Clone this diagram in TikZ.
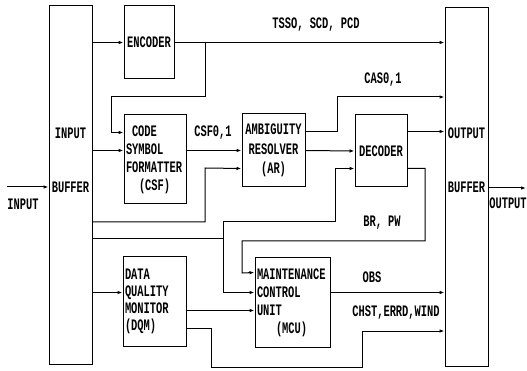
\documentclass[tikz,border=0pt]{standalone}
\usepackage{fontspec}
\setmonofont{Liberation Mono}[FakeStretch=0.65]
\usetikzlibrary{arrows.meta,calc}
\tikzset{
  every picture/.style={>={Latex[length=5pt,width=3.5pt]}, line width=1pt},
  lines/.style={font=\ttfamily\bfseries\fontsize{16}{#1}\selectfont},
  lbl/.style={lines=18, inner sep=1pt},
  blk/.style={draw, lines=18, inner sep=2pt},
  wire/.style={->},
}

\begin{document}
\begin{tikzpicture}[x=1pt,y=-1pt]
  \path[use as bounding box] (0,0) rectangle (527,371);
  \node[blk, minimum width=43pt, minimum height=358pt] (ib) at (70.5,185) {};
  \node[blk, minimum width=43pt, minimum height=358pt] (ob) at (466.5,187) {};
  \node[blk, minimum width=50pt, minimum height=73pt] (enc) at (149,42.5) {ENCODER};
  \node[blk, minimum width=62pt, minimum height=89pt, text width=58pt, align=left] (csf) at (155,159.5)
    {\hspace*{6pt}CODE\\SYMBOL\\FORMATTER\\\hspace*{13pt}(CSF)};
  \node[blk, lines=19.5, minimum width=63pt, minimum height=73pt, align=center] (ar) at (273.5,150.5)
    {AMBIGUITY\\RESOLVER\\(AR)};
  \node[blk, minimum width=52pt, minimum height=72pt] (dec) at (381,151) {DECODER};
  \node[blk, lines=17, minimum width=63pt, minimum height=89pt, text width=59pt, align=left] (dqm) at (154.5,301.5)
    {DATA\\QUALITY\\MONITOR\\(DQM)};
  \node[blk, minimum width=75pt, minimum height=89pt, text width=71pt, align=left] (mcu) at (292.5,302.5)
    {MAINTENANCE\\CONTROL\\UNIT\\\hspace*{19pt}(MCU)};

  \node[lbl] (ib-a) at (ib.center |- 0,133) {INPUT};
  \node[lbl] (ib-b) at (ib.center |- 0,187) {BUFFER};
  \node[lbl] (ob-a) at (ob.center |- 0,133) {OUTPUT};
  \node[lbl] (ob-b) at (ob.center |- 0,187) {BUFFER};

  \node[lbl] (l-tss) at (316,25) {TSSO, SCD, PCD};
  \node[lbl] (l-csf) at (213,133) {CSF0,1};
  \node[lbl] (l-cas) at (383,80) {CAS0,1};
  \node[lbl] (l-br) at (382,223) {BR, PW};
  \node[lbl] (l-obs) at (372,277) {OBS};
  \node[lbl] (l-chst) at (396,313) {CHST,ERRD,WIND};
  \node[lbl] (l-in) at (23,204) {INPUT};
  \node[lbl] (l-out) at (508,203) {OUTPUT};

  \coordinate (in) at (7,187);
  \coordinate (out) at (526,188);
  \coordinate (tap) at ($(enc.east)+(31,0)$);
  \coordinate (fork) at (223,239);
  \coordinate (csf-i1) at ($(csf.north west)+(0,18)$);
  \coordinate (csf-i2) at ($(csf.north west)+(0,36)$);
  \coordinate (csf-o) at ($(csf.north east)+(0,36)$);
  \coordinate (ar-i2) at ($(ar.south west)+(0,-19)$);
  \coordinate (ar-o1) at ($(ar.north east)+(0,18)$);
  \coordinate (dec-i2) at ($(dec.south west)+(0,-19)$);
  \coordinate (dec-o1) at ($(dec.north east)+(0,17)$);
  \coordinate (dec-o2) at ($(dec.south east)+(0,-19)$);
  \coordinate (dqm-i) at ($(dqm.north west)+(0,36)$);
  \coordinate (dqm-o1) at ($(dqm.north east)+(0,54)$);
  \coordinate (dqm-o2) at ($(dqm.north east)+(0,72)$);
  \coordinate (mcu-i1) at ($(mcu.north west)+(0,15)$);
  \coordinate (mcu-i2) at ($(mcu.north west)+(0,35)$);
  \coordinate (mcu-i3) at ($(mcu.north west)+(0,53)$);
  \coordinate (mcu-o) at ($(mcu.north east)+(0,35)$);

  \draw[wire] (in) -- (ib.west |- in);
  \draw[wire] (ib.east |- enc.west) -- (enc.west);
  \draw[wire] (enc.east) -- (ob.west |- enc.east);
  \draw[wire] (tap) |- (111,97) |- (csf-i1);
  \draw[wire] (ib.east |- csf-i2) -- (csf-i2);
  \draw[wire] (csf-o) -- (ar.west |- csf-o);
  \draw[wire] (ib.east |- 0,222) -| (205,168) -- (ar-i2);
  \draw[wire] (ar-o1) -| (337,97) -- (ob.west |- 0,97);
  \draw[wire] (ar.east) -- (dec.west);
  \draw (ib.east |- fork) -- (fork);
  \draw[wire] (fork) |- (335,222) |- (dec-i2);
  \draw[wire] (fork) |- (mcu-i2);
  \draw[wire] (dec-o1) -- (ob.west |- dec-o1);
  \draw[wire] (dec-o2) -| (425,241) -| (242,273) -- (mcu-i1);
  \draw[wire] (ib.east |- dqm-i) -- (dqm-i);
  \draw[wire] (dqm-o1) -- (mcu-i3);
  \draw[wire] (dqm-o2) -| (211,367) -| (362,331) -- (ob.west |- 0,331);
  \draw[wire] (mcu-o) -- (ob.west |- mcu-o);
  \draw[wire] (ob.east |- out) -- (out);
\end{tikzpicture}
\end{document}
